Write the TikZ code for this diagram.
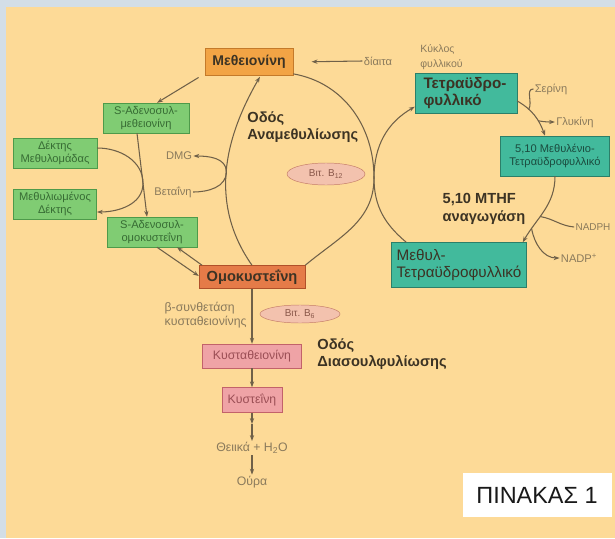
\documentclass[tikz,border=0pt]{standalone}
\usepackage{fontspec}
\setmainfont{Liberation Sans}
\usetikzlibrary{positioning,shapes.geometric,arrows.meta}
\definecolor{frameBg}{HTML}{D3DEE7}
\definecolor{paper}{HTML}{FDDA97}
\definecolor{metOr}{HTML}{F2A445}
\definecolor{metOrD}{HTML}{C47A2A}
\definecolor{hcyOr}{HTML}{E57B48}
\definecolor{hcyOrD}{HTML}{B0502A}
\definecolor{leafG}{HTML}{80CC73}
\definecolor{leafGD}{HTML}{4E9A4A}
\definecolor{folT}{HTML}{42BA9C}
\definecolor{folTD}{HTML}{2C7F69}
\definecolor{roseP}{HTML}{EFA3A6}
\definecolor{rosePD}{HTML}{C2626A}
\definecolor{vitP}{HTML}{F3C2AE}
\definecolor{vitPD}{HTML}{C47C68}
\definecolor{inkD}{HTML}{3C3324}
\definecolor{inkL}{HTML}{8A7A5C}
\definecolor{wirec}{HTML}{6F6048}

\begin{document}
\begin{tikzpicture}[x=0.3mm, y=0.3mm, >={Stealth[length=5pt,width=3.6pt]}]
\tikzstyle{lbl}=[text=inkL, font=\fontsize{9.5}{11.5}\selectfont, inner sep=1pt, align=left]
\tikzstyle{head}=[text=inkD, font=\bfseries\fontsize{12.5}{15}\selectfont, inner sep=1pt, align=left]
\tikzstyle{leaf}=[draw=leafGD, fill=leafG, text=leafGD!70!black, align=center, font=\fontsize{9.5}{11}\selectfont, inner sep=1pt]
\tikzstyle{fol}=[draw=folTD, fill=folT, text=inkD, align=left, inner sep=3pt]
\tikzstyle{rose}=[draw=rosePD, fill=roseP, text=rosePD!80!black, font=\fontsize{10.5}{12}\selectfont, inner sep=1pt]
\tikzstyle{vit}=[ellipse, draw=vitPD, fill=vitP, text=vitPD!70!black, font=\fontsize{8.5}{10}\selectfont, inner sep=0pt]
\tikzstyle{ln}=[draw=wirec, line width=0.9pt]
\tikzstyle{arr}=[->, draw=wirec, line width=0.9pt]

\useasboundingbox (0,0) rectangle (615,-538);
\clip (0,0) rectangle (615,-538);
\fill[frameBg] (0,0) rectangle (615,-538);
\fill[paper] (6,-7) rectangle (615,-538);

\node[draw=metOrD, fill=metOr, minimum width=26.4mm, minimum height=8.1mm, text=inkD, font=\bfseries\fontsize{12}{14}\selectfont] (met) at (249,-62) {Μεθειονίνη};
\node[lbl] (diet) at (378,-61) {δίαιτα};
\node[lbl, anchor=west, font=\fontsize{9}{13}\selectfont] (kyk) at (419,-57) {Κύκλος\\φυλλικού};
\node[fol, minimum width=30.6mm, minimum height=12mm, font=\bfseries\fontsize{13}{14}\selectfont] (thf) at (466,-93) {Τετραϋδρο-\\φυλλικό\hspace*{8mm}};
\node[lbl] (ser) at (551,-89) {Σερίνη};
\node[lbl] (gly) at (575,-122) {Γλυκίνη};
\node[fol, minimum width=32.7mm, minimum height=12mm, text=folTD!60!black, align=center, font=\fontsize{9.5}{11}\selectfont, inner sep=1pt] (mthfbox) at (555,-156) {5,10 Μεθυλένιο-\\Τετραϋδροφυλλικό};
\node[head] (mthfr) at (484,-209) {5,10 MTHF\\αναγωγάση};
\node[lbl, font=\fontsize{8.5}{10}\selectfont] (nadph) at (593,-227) {NADPH};
\node[lbl] (nadp) at (579,-258) {NADP\textsuperscript{+}};
\node[fol, minimum width=40.5mm, minimum height=13.5mm, font=\fontsize{13}{15}\selectfont, inner sep=2pt] (methyl) at (459,-265) {Μεθυλ-\hspace*{22mm}\\Τετραϋδροφυλλικό};

\node[head, anchor=west] (remeth) at (246,-127) {Οδός\\Αναμεθυλίωσης};
\node[vit, minimum width=23.4mm, minimum height=6.6mm] (b12) at (326,-174) {Βιτ. B\textsubscript{12}};
\node[lbl] (dmg) at (179,-156) {DMG};
\node[lbl] (bet) at (173,-192) {Βεταΐνη};

\node[leaf, minimum width=25.8mm, minimum height=9mm] (sam) at (146,-118) {S-Αδενοσυλ-\\μεθειονίνη};
\node[leaf, minimum width=25.2mm, minimum height=9mm] (acc) at (55,-153) {Δέκτης\\Μεθυλομάδας};
\node[leaf, minimum width=25mm, minimum height=9mm] (macc) at (55,-204) {Μεθυλιωμένος\\Δέκτης};
\node[leaf, minimum width=27mm, minimum height=9mm] (sah) at (152,-232) {S-Αδενοσυλ-\\ομοκυστεΐνη};

\node[draw=hcyOrD, fill=hcyOr, minimum width=31.8mm, minimum height=6.9mm, text=inkD, font=\bfseries\fontsize{12.5}{14}\selectfont, inner sep=1pt] (hcy) at (252,-277) {Ομοκυστεΐνη};
\node[lbl, anchor=east, align=left, font=\fontsize{10.5}{12.5}\selectfont] (cbs) at (248,-315) {β-συνθετάση\\κυσταθειονίνης};
\node[vit, minimum width=24mm, minimum height=5.4mm] (b6) at (300,-314) {Βιτ. B\textsubscript{6}};
\node[head, anchor=west] (trans) at (316,-354) {Οδός\\Διασουλφυλίωσης};
\node[rose, minimum width=29.7mm, minimum height=7.2mm] (cth) at (252,-356) {Κυσταθειονίνη};
\node[rose, minimum width=18mm, minimum height=7.5mm, below=5.7mm of cth] (cys) {Κυστεΐνη};
\node[lbl, font=\fontsize{10.5}{12}\selectfont] (sulf) at (252,-448) {Θειικά + H\textsubscript{2}O};
\node[lbl, font=\fontsize{10.5}{12}\selectfont] (urine) at (252,-482) {Ούρα};

\node[fill=white, minimum width=44.7mm, minimum height=13.2mm, text=black!90, font=\fontsize{20}{24}\selectfont] (tab) at (537,-495) {ΠΙΝΑΚΑΣ 1};

\coordinate (touch) at (374,-178);
\coordinate (cysm) at (252,-424);

\draw[arr, shorten >=5.5mm] (diet.west) -- (met.east);
\draw[arr, shorten <=1mm] ([xshift=-1mm]met.south west) -- ([xshift=3.3mm]sam.north);
\draw[arr] ([xshift=-2.7mm]sam.south) -- coordinate[pos=0.6] (aj) ([xshift=-1.5mm]sah.north);
\draw[ln] ([yshift=1.5mm]acc.east) to[out=0,in=90] (aj);
\draw[arr] (aj) to[out=-90,in=0] ([yshift=-2.4mm]macc.east);
\draw[arr] ([xshift=1.5mm]sah.south) -- ([yshift=0.3mm]hcy.west);
\draw[arr] ([xshift=1mm]hcy.north west) -- ([xshift=7.5mm]sah.south);

\draw[arr, shorten >=1pt] (hcy.north) to[out=125,in=-120] coordinate[pos=0.5] (bj) (met.-50);
\draw[ln] (met.-15) to[out=-10,in=90] (touch) to[out=-90,in=40] (hcy.north east);
\draw[ln] (bet.east) to[out=0,in=-90] (bj);
\draw[arr] (bj) to[out=90,in=0] (dmg.east);

\draw[arr] ([xshift=4.5mm]methyl.north west) to[out=140,in=-90] (touch) to[out=90,in=-150] (thf.-165);
\draw[arr] ([yshift=-2.4mm]thf.east) to[out=-30,in=110] coordinate[pos=0.3] (fs) coordinate[pos=0.65] (fg) ([xshift=-3mm]mthfbox.north);
\draw[ln] (ser.west) to[out=180,in=60] (fs);
\draw[arr] (fg) to[out=-10,in=180] (gly.west);
\draw[arr] (mthfbox.south) to[out=-90,in=60] coordinate[pos=0.6] (nj) coordinate[pos=0.8] (np) ([xshift=-1.2mm]methyl.north east);
\draw[ln] (nadph.west) to[out=175,in=-10] (nj);
\draw[arr] (np) to[out=-80,in=180] (nadp.west);

\draw[arr] (hcy.south) -- (cth.north);
\draw[arr] (cth.south) -- (cys.north);
\draw[arr] (cys.south) -- (cysm);
\draw[arr] (cysm) -- (sulf.north);
\draw[arr] (sulf.south) -- (urine.north);
\end{tikzpicture}
\end{document}
